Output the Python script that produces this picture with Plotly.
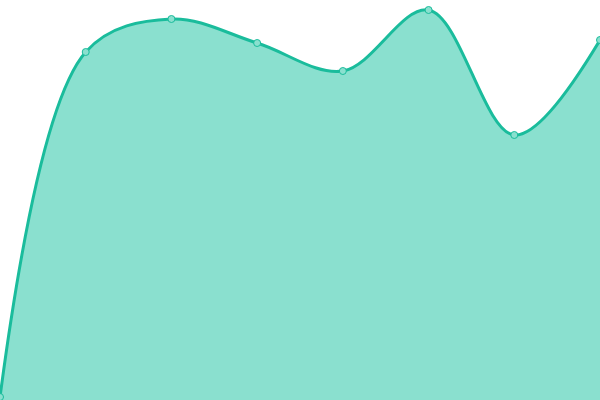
import plotly.graph_objects as go

x_vals = [0, 1, 2, 3, 4, 5, 6, 7]
y_vals = [3, 348, 381, 357, 329, 390, 265, 360]

fig = go.Figure()
fig.add_trace(go.Scatter(
    x=x_vals, y=y_vals,
    mode="lines+markers",
    line=dict(shape="spline", smoothing=1, color="#1abc9c", width=3),
    marker=dict(size=7, color="#8ae0cf", line=dict(color="#1abc9c", width=1)),
    fill="tozeroy",
    fillcolor="#8ae0cf",
    hoverinfo="skip",
))
fig.update_layout(
    width=600, height=400, autosize=False,
    margin=dict(l=0, r=0, t=0, b=0),
    paper_bgcolor="white", plot_bgcolor="white",
    showlegend=False,
    xaxis=dict(range=[0, 7], visible=False, fixedrange=True),
    yaxis=dict(range=[0, 400], visible=False, fixedrange=True),
)
fig.write_html(
    "out.html",
    config={"displayModeBar": False},
    post_script="document.body.style.margin='0';document.body.style.overflow='hidden';",
)
